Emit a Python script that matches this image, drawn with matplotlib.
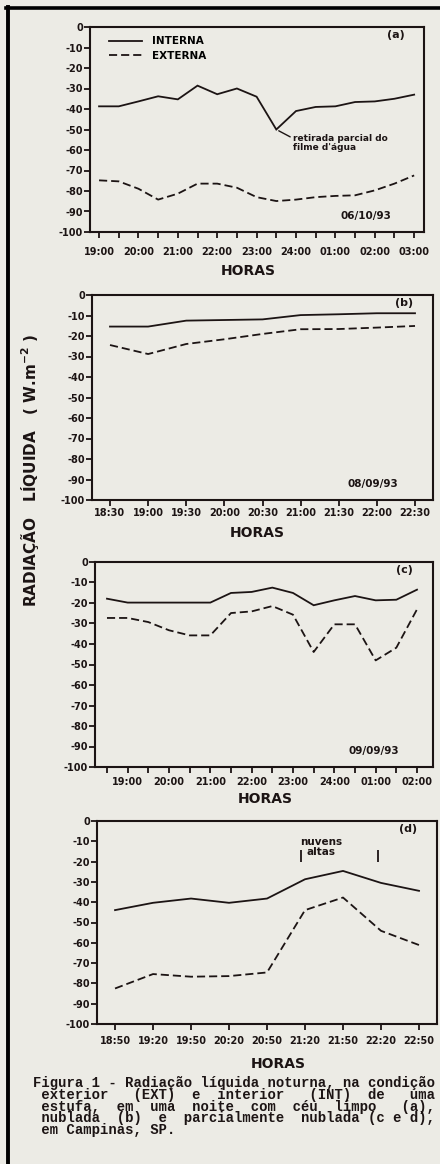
import matplotlib.pyplot as plt
from matplotlib.lines import Line2D

W, H = 440, 1164
fundo = '#ecebe5'
tinta = '#1c1414'

# painel (a) - 06/10/93, ceu limpo
horas_a = [19.0, 19.5, 20.0, 20.5, 21.0, 21.5, 22.0, 22.5, 23.0, 23.5,
           24.0, 24.5, 25.0, 25.5, 26.0, 26.5, 27.0]
interna_a = [-38.7, -38.7, -36.3, -33.8, -35.3, -28.6, -32.8, -30.0, -34.0, -50.0,
             -41.0, -39.0, -38.7, -36.6, -36.3, -35.0, -33.0]
externa_a = [-74.8, -75.3, -78.9, -84.2, -81.3, -76.4, -76.4, -78.4, -83.0, -84.9,
             -84.2, -83.0, -82.4, -82.1, -79.7, -76.4, -72.4]
ticks_a = [19, 20, 21, 22, 23, 24, 25, 26, 27]
rotulos_a = ['19:00', '20:00', '21:00', '22:00', '23:00', '24:00', '01:00', '02:00', '03:00']

# painel (b) - 08/09/93, nublado
horas_b = [18.5, 19.0, 19.5, 20.0, 20.5, 21.0, 21.5, 22.0, 22.5]
interna_b = [-15.4, -15.4, -12.5, -12.2, -11.9, -9.8, -9.4, -8.9, -8.9]
externa_b = [-24.4, -28.8, -23.9, -21.6, -19.0, -16.7, -16.6, -15.9, -15.1]
ticks_b = horas_b
rotulos_b = ['18:30', '19:00', '19:30', '20:00', '20:30', '21:00', '21:30', '22:00', '22:30']

# painel (c) - 09/09/93, parcialmente nublado
horas_c = [18.5, 19.0, 19.5, 20.0, 20.5, 21.0, 21.5, 22.0, 22.5, 23.0,
           23.5, 24.0, 24.5, 25.0, 25.5, 26.0]
interna_c = [-17.9, -19.8, -19.8, -19.8, -19.8, -19.8, -15.1, -14.6, -12.5, -15.1,
             -21.1, -18.7, -16.6, -18.7, -18.4, -13.5]
externa_c = [-27.3, -27.3, -29.3, -33.3, -35.8, -35.8, -24.9, -24.1, -21.5, -25.7,
             -43.9, -30.4, -30.4, -48.0, -41.8, -23.1]
ticks_c = [19, 20, 21, 22, 23, 24, 25, 26]
rotulos_c = ['19:00', '20:00', '21:00', '22:00', '23:00', '24:00', '01:00', '02:00']

# painel (d) - parcialmente nublado, nuvens altas
horas_d = [18 + 50/60, 19 + 20/60, 19 + 50/60, 20 + 20/60, 20 + 50/60,
           21 + 20/60, 21 + 50/60, 22 + 20/60, 22 + 50/60]
interna_d = [-43.9, -40.3, -38.2, -40.3, -38.2, -28.7, -24.6, -30.5, -34.4]
externa_d = [-82.5, -75.4, -76.7, -76.4, -74.6, -43.9, -37.7, -54.1, -61.1]
ticks_d = horas_d
rotulos_d = ['18:50', '19:20', '19:50', '20:20', '20:50', '21:20', '21:50', '22:20', '22:50']
nuvens_d = [21 + 17/60, 22 + 18/60]

yticks = list(range(0, -101, -10))

fig = plt.figure(figsize=(W / 100, H / 100), dpi=100, facecolor=fundo)


def painel(px, horas, interna, externa, xlim, ticks, rotulos, menores, letra, data, pad, horas_xy):
    l, t, r, b = px
    ax = fig.add_axes([l / W, 1 - b / H, (r - l) / W, (b - t) / H])
    ax.set_facecolor(fundo)
    ax.plot(horas, interna, color=tinta, lw=1.3, solid_joinstyle='miter')
    ax.plot(horas, externa, color=tinta, lw=1.3, dashes=(4.5, 2.2))
    ax.set_xlim(*xlim)
    ax.set_ylim(-100, 0)
    ax.set_yticks(yticks)
    ax.set_yticklabels([str(v) for v in yticks], fontsize=7, fontweight='bold', color=tinta)
    ax.set_xticks(ticks)
    ax.set_xticklabels(rotulos, fontsize=7, fontweight='bold', color=tinta)
    if menores is not None:
        ax.set_xticks(menores, minor=True)
    ax.tick_params(axis='y', length=4, width=1.3, pad=1, color=tinta)
    ax.tick_params(axis='x', which='both', length=4.5, width=1.3, pad=pad, color=tinta)
    for s in ax.spines.values():
        s.set_linewidth(1.5)
        s.set_color(tinta)
    ax.text(0.915, 0.985, letra, transform=ax.transAxes, ha='center', va='top',
            fontsize=8, fontweight='bold', color=tinta)
    ax.text(0.825, 0.08, data, transform=ax.transAxes, ha='center', va='center',
            fontsize=7.5, fontweight='bold', color=tinta)
    ax.set_xlabel('HORAS', fontsize=10, fontweight='bold', color=tinta)
    ax.xaxis.set_label_coords((horas_xy[0] - l) / (r - l), -(horas_xy[1] - b) / (b - t))
    return ax


ax_a = painel((90, 27, 424, 232), horas_a, interna_a, externa_a, (18.77, 27.25),
              ticks_a, rotulos_a, horas_a, '(a)', '06/10/93', 6, (248, 264))
ax_a.legend(handles=[Line2D([], [], color=tinta, lw=1.3),
                     Line2D([], [], color=tinta, lw=1.3, dashes=(4.5, 2.2))],
            labels=['INTERNA', 'EXTERNA'], loc='upper left', bbox_to_anchor=(0.04, 0.98),
            frameon=False, handlelength=3.2, handletextpad=1.0, labelspacing=0.45,
            borderpad=0, prop={'size': 7.5, 'weight': 'bold'})
ax_a.annotate("retirada parcial do\nfilme d'água", xy=(horas_a[9], interna_a[9]),
              xytext=(12, -3), textcoords='offset points', ha='left', va='top',
              fontsize=6.5, fontweight='bold', color=tinta, linespacing=1.1,
              arrowprops=dict(arrowstyle='-', color=tinta, lw=1.0, shrinkA=0, shrinkB=2,
                              relpos=(0, 0.75)))

painel((92, 295, 433, 500), horas_b, interna_b, externa_b, (18.264, 22.736),
       ticks_b, rotulos_b, None, '(b)', '08/09/93', 1.5, (257, 526))

painel((95, 562, 433, 767), horas_c, interna_c, externa_c, (18.21, 26.387),
       ticks_c, rotulos_c, horas_c, '(c)', '09/09/93', 2.5, (265, 792))

ax_d = painel((97, 821, 437, 1024), horas_d, interna_d, externa_d, (18.596, 23.07),
              ticks_d, rotulos_d, None, '(d)', '', 4, (278, 1057))
ax_d.vlines(nuvens_d, -20.2, -14.3, color=tinta, lw=1.3)
ax_d.text(sum(nuvens_d) / 2 - 0.25, -8.0, 'nuvens\naltas', ha='center', va='top',
          fontsize=7.5, fontweight='bold', color=tinta, linespacing=1.0)

fig.text(30 / W, 1 - 470 / H, 'RADIAÇÃO   LÍQUIDA   ( W.m$^{\\mathbf{-2}}$ )', rotation=90,
         ha='center', va='center', fontsize=11, fontweight='bold', color=tinta)

# legenda da figura (texto justificado, fonte monoespacada)
legenda = ['Figura 1 - Radiação líquida noturna, na condição',
           ' exterior   (EXT)  e  interior   (INT)  de   uma',
           ' estufa,  em  uma  noite  com  céu  limpo   (a),',
           ' nublada  (b)  e  parcialmente  nublada (c e d),',
           ' em Campinas, SP.']
for i, linha in enumerate(legenda):
    fig.text(33 / W, 1 - (1083 + 11.8 * i) / H, linha, ha='left', va='center',
             family='Liberation Mono', fontweight='bold', fontsize=10, color=tinta)

# moldura escura do original (topo e esquerda)
fig.add_artist(Line2D([6 / W, 1], [1 - 8.3 / H, 1 - 8.3 / H], color='black', lw=2.6))
fig.add_artist(Line2D([8.3 / W, 8.3 / W], [0, 1 - 7 / H], color='black', lw=2.8))

fig.savefig('out.png', dpi=100, facecolor=fundo)
